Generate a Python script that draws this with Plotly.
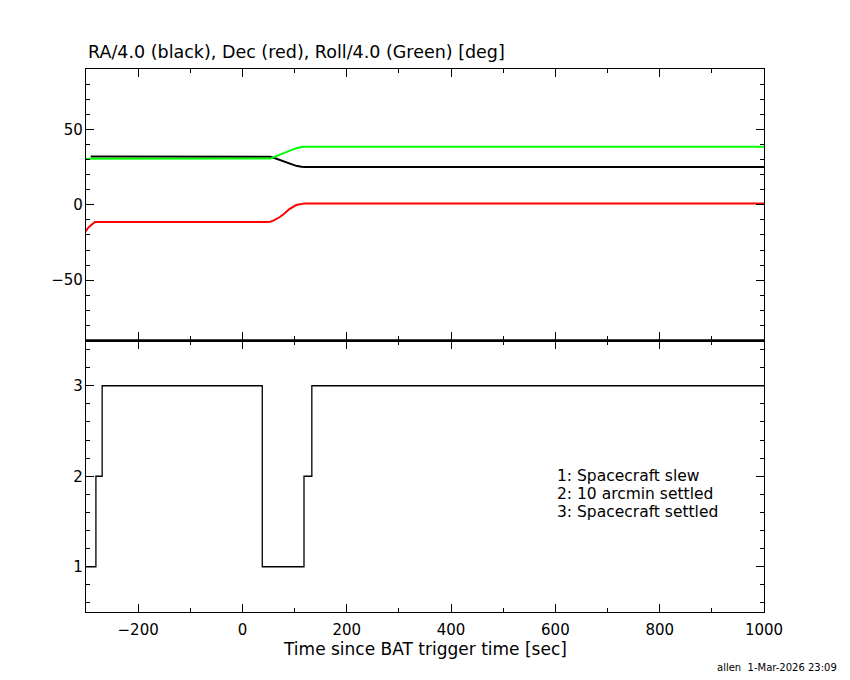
import plotly.graph_objects as go

# attitude data
t_att = [-300, -296, -291, -289, -283, 46, 53, 60, 71, 80, 85, 90, 103, 113, 116, 120, 1000]
ra_4 = [None, None, 32.0, 32.0, 32.0, 32.0, 31.8, 31.2, 29.8, 28.6, 27.8, 27.0, 25.8, 25.2, 25.1, 25.1, 25.1]
dec = [-17.5, -15.3, -13.8, -13.2, -11.4, -11.4, -11.2, -10.4, -8.3, -6.0, -4.6, -2.9, -0.2, 0.7, 0.9, 0.9, 0.9]
roll_4 = [30.5, 30.5, 30.5, 30.5, 30.5, 30.5, 30.6, 31.6, 33.2, 34.4, 34.9, 35.9, 37.5, 38.3, 38.4, 38.4, 38.4]

# settling state
t_state = [-300, -281, -269, 38, 118, 133, 1000]
state = [1, 2, 3, 1, 2, 3, 3]

legend_lines = ['1: Spacecraft slew', '2: 10 arcmin settled', '3: Spacecraft settled']

font = 'DejaVu Sans'

fig = go.Figure()
fig.add_trace(go.Scatter(x=t_att, y=ra_4, mode='lines', line=dict(color='black', width=2),
                         xaxis='x2', yaxis='y2', connectgaps=False))
fig.add_trace(go.Scatter(x=t_att, y=dec, mode='lines', line=dict(color='#ff0000', width=2),
                         xaxis='x2', yaxis='y2'))
fig.add_trace(go.Scatter(x=t_att, y=roll_4, mode='lines', line=dict(color='#00ff00', width=2),
                         xaxis='x2', yaxis='y2'))
fig.add_trace(go.Scatter(x=t_state, y=state, mode='lines', line=dict(color='black', width=1.3, shape='hv'),
                         xaxis='x', yaxis='y'))

common = dict(showline=True, linecolor='black', linewidth=1.3, mirror='ticks',
              ticks='inside', ticklen=8, tickcolor='black', tickwidth=1,
              showgrid=False, zeroline=False,
              tickfont=dict(family=font, size=15, color='black'))

fig.update_layout(
    width=842, height=672,
    paper_bgcolor='white', plot_bgcolor='white',
    margin=dict(l=78, r=86, t=61, b=68),
    showlegend=False,
    xaxis=dict(common, domain=[0, 1], anchor='y', range=[-300, 1000], dtick=200, tick0=0,
               ticklabelstandoff=4,
               minor=dict(ticks='inside', ticklen=4, dtick=100, tickcolor='black')),
    xaxis2=dict(common, domain=[0, 1], anchor='y2', matches='x', range=[-300, 1000], dtick=200, tick0=0,
                showticklabels=False,
                minor=dict(ticks='inside', ticklen=4, dtick=100, tickcolor='black')),
    yaxis=dict(common, domain=[0, 0.5], anchor='x', range=[0.5, 3.5], dtick=1, tick0=0,
               ticklabelstandoff=-1,
               minor=dict(ticks='inside', ticklen=4, dtick=0.2, tickcolor='black')),
    yaxis2=dict(common, domain=[0.5, 1], anchor='x2', range=[-90, 90], dtick=50, tick0=0,
                ticklabelstandoff=-1,
                minor=dict(ticks='inside', ticklen=4, dtick=10, tickcolor='black')),
)

# thick separator between panels
fig.add_shape(type='line', xref='paper', yref='paper', x0=0, x1=1, y0=0.5, y1=0.5,
              line=dict(color='black', width=2.5))

fig.add_annotation(text='RA/4.0 (black), Dec (red), Roll/4.0 (Green) [deg]',
                   xref='paper', yref='paper', x=0, y=1.031, xanchor='left', yanchor='middle',
                   showarrow=False, font=dict(family=font, size=17.5, color='black'))
fig.add_annotation(text='Time since BAT trigger time [sec]',
                   xref='paper', yref='paper', x=0.5, y=-0.068, xanchor='center', yanchor='middle',
                   showarrow=False, font=dict(family=font, size=17, color='black'))
fig.add_annotation(text='allen  1-Mar-2026 23:09',
                   xref='paper', yref='paper', x=1.11, y=-0.103, xanchor='right', yanchor='middle',
                   showarrow=False, font=dict(family=font, size=10, color='black'))

for i, txt in enumerate(legend_lines):
    fig.add_annotation(text=txt, xref='paper', yref='paper', x=0.693, y=0.2505 - i * 0.0332,
                       xanchor='left', yanchor='middle', showarrow=False, borderpad=0,
                       font=dict(family=font, size=15.5, color='black'))

fig.write_html('out.html')
